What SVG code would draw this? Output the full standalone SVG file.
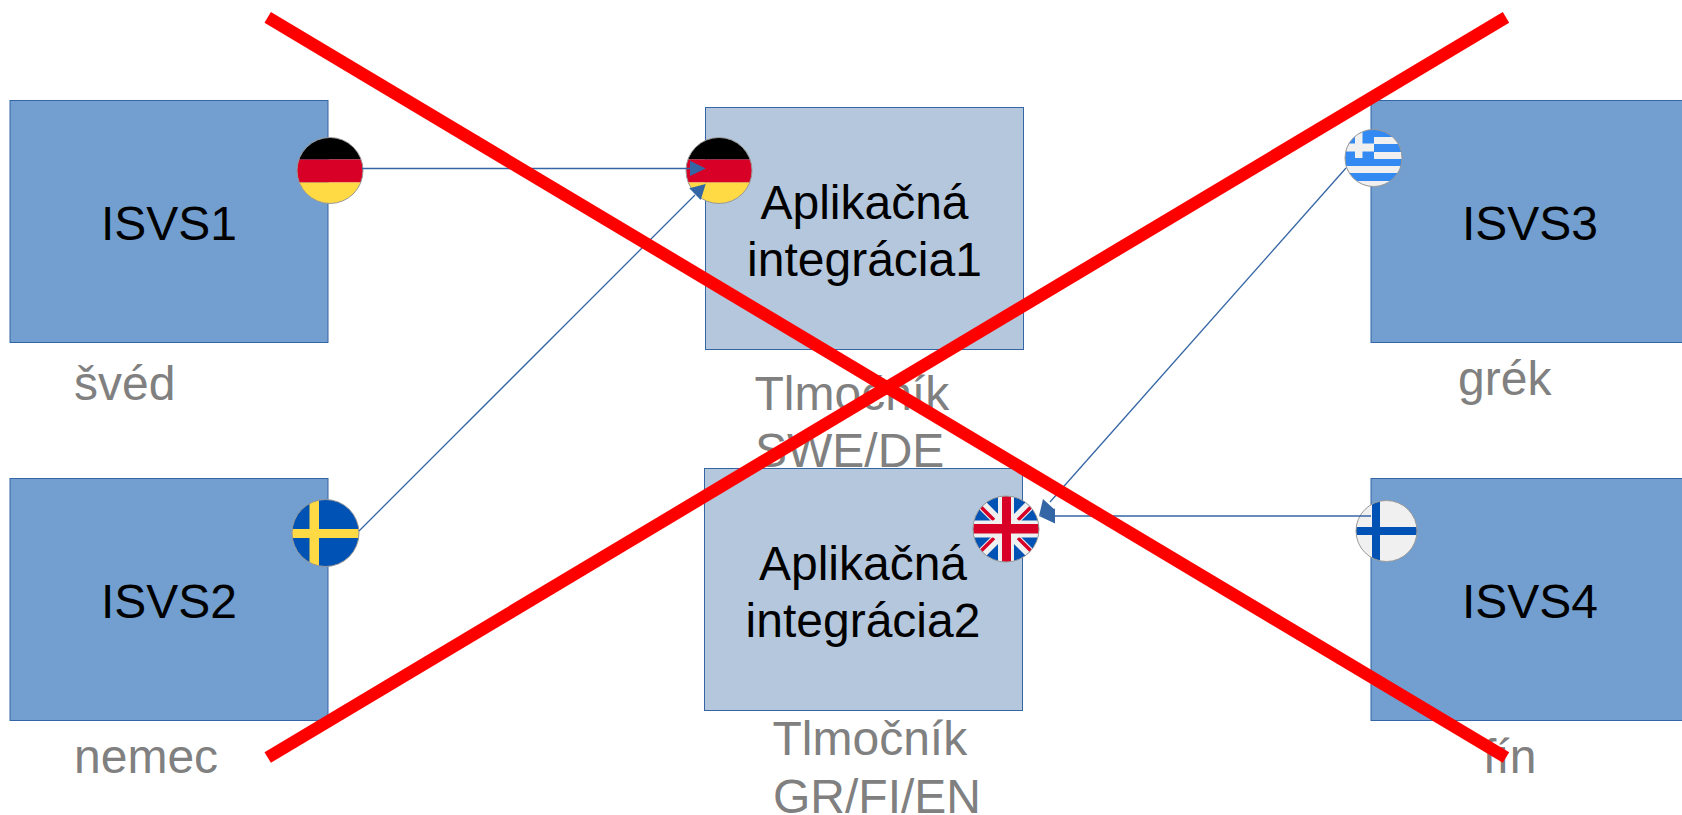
<svg xmlns="http://www.w3.org/2000/svg" width="1682" height="815" viewBox="0 0 1682 815">
<style>
.sys{fill:#729fcf;stroke:#3465a4;stroke-width:1}
.app{fill:#b4c7dc;stroke:#3465a4;stroke-width:1}
.t{font-family:"Liberation Sans",Arial,sans-serif;font-size:48px;fill:#000}
.g{font-family:"Liberation Sans",Arial,sans-serif;font-size:48px;fill:#808080}
.c{fill:none;stroke:#3465a4;stroke-width:1.300}
.ah{fill:#3465a4}
.x{stroke:#ff0000;stroke-width:12.500;fill:none}
.ring{fill:none;stroke:#999;stroke-width:1}
</style>
<defs>
<clipPath id="cDE"><circle cx="0" cy="0" r="33"/></clipPath>
<g id="flagDE">
<g clip-path="url(#cDE)">
<rect x="-33" y="-33" width="66" height="22" fill="#000"/>
<rect x="-33" y="-11" width="66" height="23" fill="#d80027"/>
<rect x="-33" y="12" width="66" height="22" fill="#ffda44"/>
</g>
<circle r="33" class="ring"/>
</g>
<clipPath id="cGR"><circle cx="1373.500" cy="158" r="28.500"/></clipPath>
<clipPath id="cSE"><circle cx="325.500" cy="533" r="33.500"/></clipPath>
<clipPath id="cUK"><circle cx="1006" cy="529" r="33"/></clipPath>
<clipPath id="cFI"><circle cx="1386.500" cy="531" r="30.500"/></clipPath>
</defs>
<rect width="1682" height="815" fill="#fff"/>
<g id="isvs1"><rect class="sys" x="10" y="100.500" width="318" height="242"/><text class="t" x="169" y="240" text-anchor="middle">ISVS1</text></g>
<g id="isvs2"><rect class="sys" x="10" y="478.500" width="318" height="242"/><text class="t" x="169" y="618" text-anchor="middle">ISVS2</text></g>
<g id="isvs3"><rect class="sys" x="1371" y="100.500" width="318" height="242"/><text class="t" x="1530" y="240" text-anchor="middle">ISVS3</text></g>
<g id="isvs4"><rect class="sys" x="1371" y="478.500" width="318" height="242"/><text class="t" x="1530" y="618" text-anchor="middle">ISVS4</text></g>
<g id="app1"><rect class="app" x="705.500" y="107.500" width="318" height="242"/><text class="t" x="864.500" y="219" text-anchor="middle">Aplikačná</text><text class="t" x="864.500" y="276" text-anchor="middle">integrácia1</text></g>
<g id="app2"><rect class="app" x="704.500" y="468.500" width="318" height="242"/><text class="t" x="863" y="580" text-anchor="middle">Aplikačná</text><text class="t" x="863" y="637" text-anchor="middle">integrácia2</text></g>
<g id="labels">
<text class="g" x="74" y="400">švéd</text>
<text class="g" x="74" y="773">nemec</text>
<text class="g" x="1458" y="395">grék</text>
<text class="g" x="1483" y="773">fín</text>
<text class="g" x="754.500" y="410">Tlmočník</text>
<text class="g" x="755" y="467">SWE/DE</text>
<text class="g" x="772.500" y="755">Tlmočník</text>
<text class="g" x="773" y="813">GR/FI/EN</text>
</g>
<g id="flag-de1"><use href="#flagDE" x="330" y="170.500"/></g>
<g id="flag-de2"><use href="#flagDE" x="719" y="170.500"/></g>
<g id="flag-gr"><g clip-path="url(#cGR)">
<rect x="1344" y="129" width="60" height="58" fill="#338af3"/>
<rect x="1374" y="137" width="30" height="7" fill="#f0f0f0"/>
<rect x="1374" y="152" width="30" height="7" fill="#f0f0f0"/>
<rect x="1344" y="166" width="60" height="7" fill="#f0f0f0"/>
<rect x="1344" y="181" width="60" height="7" fill="#f0f0f0"/>
<rect x="1355" y="129" width="7.500" height="29" fill="#f0f0f0"/>
<rect x="1344" y="143.500" width="30" height="8" fill="#f0f0f0"/>
</g><circle cx="1373.500" cy="158" r="28.500" class="ring"/></g>
<g id="flag-se"><g clip-path="url(#cSE)">
<rect x="292" y="499" width="68" height="68" fill="#0052b4"/>
<rect x="309.500" y="499" width="9.500" height="68" fill="#ffda44"/>
<rect x="292" y="529" width="68" height="9" fill="#ffda44"/>
</g><circle cx="325.500" cy="533" r="33.500" class="ring"/></g>
<g id="flag-uk"><g clip-path="url(#cUK)">
<rect x="973" y="496" width="66" height="66" fill="#0052b4"/>
<path d="M973 496L1039 562M1039 496L973 562" stroke="#f0f0f0" stroke-width="10" fill="none"/>
<path d="M980 506L994 520M1032 506L1018 520M980 552L994 538M1032 552L1018 538" stroke="#d80027" stroke-width="3.500" fill="none"/>
<rect x="998" y="496" width="16" height="66" fill="#f0f0f0"/>
<rect x="973" y="520.500" width="66" height="17" fill="#f0f0f0"/>
<rect x="1002" y="496" width="9" height="66" fill="#d80027"/>
<rect x="973" y="524" width="66" height="9.500" fill="#d80027"/>
</g><circle cx="1006" cy="529" r="33" class="ring"/></g>
<g id="flag-fi"><g clip-path="url(#cFI)">
<rect x="1355" y="500" width="63" height="62" fill="#f0f0f0"/>
<rect x="1372" y="500" width="8" height="62" fill="#0052b4"/>
<rect x="1355" y="527" width="63" height="8" fill="#0052b4"/>
</g><circle cx="1386.500" cy="531" r="30.500" class="ring"/></g>
<g id="connectors">
<path class="c" d="M362 168.500H690"/>
<path class="ah" d="M690 160.700L705.700 168.400L690 176Z"/>
<path class="c" d="M359 531L695 195"/>
<path class="ah" d="M705.700 184L689.300 188.300L700.700 200Z"/>
<path class="c" d="M1346 168L1050 502"/>
<path class="ah" d="M1039 516L1043 499L1055 510Z"/>
<path class="c" d="M1055 516H1371"/>
<path class="ah" d="M1039 516L1055 508.500L1055 523.500Z"/>
</g>
<g id="cross">
<path class="x" d="M267.700 17.300L1506 757.500"/>
<path class="x" d="M1506 17.300L267.700 757.500"/>
</g>
</svg>
